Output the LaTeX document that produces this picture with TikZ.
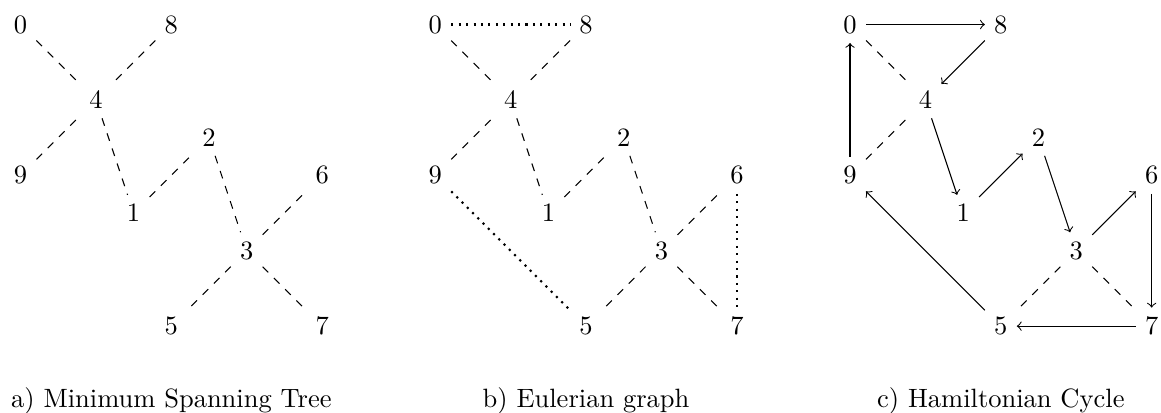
\documentclass[tikz,border=0pt]{standalone}
\usetikzlibrary{positioning}
\begin{document}
\begin{tikzpicture}[x=5mm, y=5mm, vertex/.style={inner sep=0.333em}, mst/.style={dashed}, euler/.style={dotted, thick}, tour/.style={->}, subcap/.style={inner sep=0.333em}]
\useasboundingbox (-0.272cm,0.325cm) rectangle (15.124cm,-5.139cm);
\node[vertex] (a0) at (0,0) {0};
\node[vertex] (a8) at (4,0) {8};
\node[vertex] (a4) at (2,-2) {4};
\node[vertex] (a9) at (0,-4) {9};
\node[vertex] (a2) at (5,-3) {2};
\node[vertex] (a1) at (3,-5) {1};
\node[vertex] (a6) at (8,-4) {6};
\node[vertex] (a3) at (6,-6) {3};
\node[vertex] (a5) at (4,-8) {5};
\node[vertex] (a7) at (8,-8) {7};
\node[subcap, below=4.5mm of a5] (capa) {a) Minimum Spanning Tree};
\draw[mst] (a0) -- (a4);
\draw[mst] (a8) -- (a4);
\draw[mst] (a9) -- (a4);
\draw[mst] (a4) -- (a1);
\draw[mst] (a1) -- (a2);
\draw[mst] (a2) -- (a3);
\draw[mst] (a3) -- (a6);
\draw[mst] (a3) -- (a5);
\draw[mst] (a3) -- (a7);
\node[vertex] (b0) at (11,0) {0};
\node[vertex] (b8) at (15,0) {8};
\node[vertex] (b4) at (13,-2) {4};
\node[vertex] (b9) at (11,-4) {9};
\node[vertex] (b2) at (16,-3) {2};
\node[vertex] (b1) at (14,-5) {1};
\node[vertex] (b6) at (19,-4) {6};
\node[vertex] (b3) at (17,-6) {3};
\node[vertex] (b5) at (15,-8) {5};
\node[vertex] (b7) at (19,-8) {7};
\node[subcap, below=4.5mm of b5] (capb) {b) Eulerian graph};
\draw[mst] (b0) -- (b4);
\draw[mst] (b8) -- (b4);
\draw[mst] (b9) -- (b4);
\draw[mst] (b4) -- (b1);
\draw[mst] (b1) -- (b2);
\draw[mst] (b2) -- (b3);
\draw[mst] (b3) -- (b6);
\draw[mst] (b3) -- (b5);
\draw[mst] (b3) -- (b7);
\draw[euler] (b0) -- (b8);
\draw[euler] (b9) -- (b5);
\draw[euler] (b6) -- (b7);
\node[vertex] (c0) at (22,0) {0};
\node[vertex] (c8) at (26,0) {8};
\node[vertex] (c4) at (24,-2) {4};
\node[vertex] (c9) at (22,-4) {9};
\node[vertex] (c2) at (27,-3) {2};
\node[vertex] (c1) at (25,-5) {1};
\node[vertex] (c6) at (30,-4) {6};
\node[vertex] (c3) at (28,-6) {3};
\node[vertex] (c5) at (26,-8) {5};
\node[vertex] (c7) at (30,-8) {7};
\node[subcap, below=4.5mm of c5] (capc) {c) Hamiltonian Cycle};
\draw[mst] (c0) -- (c4);
\draw[mst] (c9) -- (c4);
\draw[mst] (c3) -- (c5);
\draw[mst] (c3) -- (c7);
\draw[tour] (c0) -- (c8);
\draw[tour] (c8) -- (c4);
\draw[tour] (c4) -- (c1);
\draw[tour] (c1) -- (c2);
\draw[tour] (c2) -- (c3);
\draw[tour] (c3) -- (c6);
\draw[tour] (c6) -- (c7);
\draw[tour] (c7) -- (c5);
\draw[tour] (c5) -- (c9);
\draw[tour] (c9) -- (c0);
\end{tikzpicture}
\end{document}
